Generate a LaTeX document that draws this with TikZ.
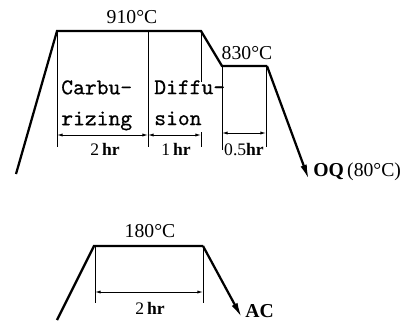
\documentclass[tikz,border=0pt]{standalone}
\usepackage{fontspec}
\setmainfont{Liberation Serif}
\newfontfamily\stagefont{lmmono10-regular.otf}[FakeBold=0.6]
\usetikzlibrary{arrows.meta}
\begin{document}
\begin{tikzpicture}[x=0.025cm,y=-0.025cm,
  thickline/.style={line width=1.6pt,line join=miter},
  thinline/.style={line width=0.6pt},
  dimline/.style={line width=0.6pt,{Latex[length=4pt,width=2.2pt]}-{Latex[length=4pt,width=2.2pt]}},
  endarrow/.style={-{Latex[length=11pt,width=4.6pt]}},
  temp/.style={font=\fontsize{14}{16}\selectfont,inner sep=0pt},
  dur/.style={font=\fontsize{12.5}{14}\selectfont,inner sep=0pt},
  stage/.style={font=\fontsize{16}{22}\stagefont,inner sep=0pt,align=left,anchor=north west}]
\useasboundingbox (0,0) rectangle (413,322);
% upper cycle
\coordinate (a1) at (16,174);
\coordinate (a2) at (57,31);
\coordinate (a3) at (201,31);
\coordinate (a4) at (222,66);
\coordinate (a5) at (267,66);
\coordinate (a6) at (309,180);
\draw[thickline] (a1) -- (a2) -- (a3) -- (a4) -- (a5);
\draw[thickline,endarrow] (a5) -- (a6);
% vertical guides
\coordinate (v1b) at (57,147);
\coordinate (v2t) at (148,31);
\coordinate (v2b) at (148,147);
\coordinate (v3m) at (201,82);
\coordinate (v3n) at (201,132);
\coordinate (v3b) at (201,147);
\coordinate (v4b) at (222,150);
\coordinate (v5t) at (266,66);
\coordinate (v5b) at (266,147);
\draw[thinline] (a2) -- (v1b);
\draw[thinline] (v2t) -- (v2b);
\draw[thinline] (a3) -- (v3m);
\draw[thinline] (v3n) -- (v3b);
\draw[thinline] (a4) -- (v4b);
\draw[thinline] (v5t) -- (v5b);
% dimension arrows
\coordinate (d1) at (57,135);
\coordinate (d2) at (148,135);
\coordinate (d3) at (201,135);
\coordinate (d4) at (222,133);
\coordinate (d5) at (266,133);
\draw[dimline] (d1) -- (d2);
\draw[dimline] (d2) -- (d3);
\draw[dimline] (d4) -- (d5);
\node[dur] (t2hr) at (105,149) {2\,\textbf{hr}};
\node[dur] (t1hr) at (176,149) {1\,\textbf{hr}};
\node[dur] (t05hr) at (244,150) {0.5\textbf{hr}};
% labels
\node[temp] (t910) at (132,17) {910\textdegree C};
\node[temp] (t830) at (247,53) {830\textdegree C};
\node[temp,anchor=west] (toq) at (313,172) {\textbf{OQ}\,(80\textdegree C)};
\node[stage] (carb) at (61,80) {Carbu-\\rizing};
\node[stage] (diff) at (154,80) {Diffu-\\sion};
% lower cycle
\coordinate (b1) at (57,320);
\coordinate (b2) at (94,246);
\coordinate (b3) at (203,246);
\coordinate (b4) at (242,318);
\draw[thickline] (b1) -- (b2) -- (b3);
\draw[thickline,endarrow] (b3) -- (b4);
\coordinate (w1t) at (95,246);
\coordinate (w1b) at (95,303);
\coordinate (w2b) at (203,303);
\draw[thinline] (w1t) -- (w1b);
\draw[thinline] (b3) -- (w2b);
\coordinate (e1) at (95,292);
\coordinate (e2) at (203,292);
\draw[dimline] (e1) -- (e2);
\node[dur] (b2hr) at (150,308) {2\,\textbf{hr}};
\node[temp] (t180) at (150,231) {180\textdegree C};
\node[temp,anchor=west] (tac) at (245,311) {\textbf{AC}};
\end{tikzpicture}
\end{document}
